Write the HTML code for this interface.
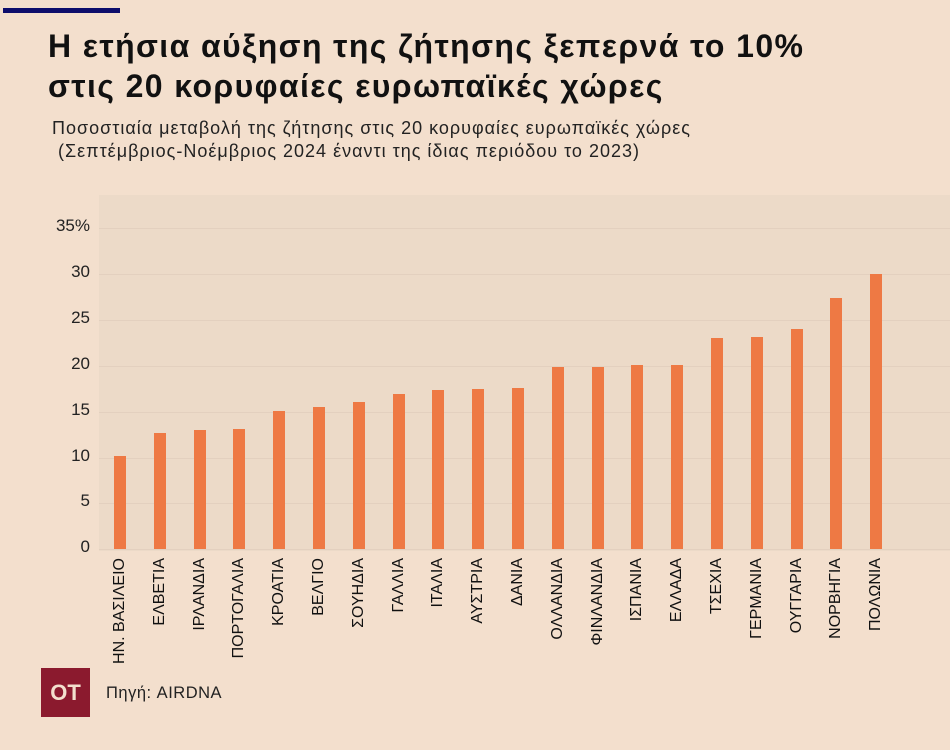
<!DOCTYPE html>
<html><head><meta charset="utf-8"><style>
body{margin:0;width:950px;height:750px;background:#f3dfcd;font-family:"Liberation Sans","DejaVu Sans",sans-serif;overflow:hidden;position:relative}
.bar{position:absolute;width:12px;background:#ee7944}
.t{position:absolute;color:#111}
.yl{position:absolute;right:860px;font-size:17px;color:#222;text-align:right}
.grid{position:absolute;left:99px;width:851px;height:1px;background:#e3d0bf}
.xl{position:absolute;font-size:16px;color:#111;transform-origin:0 0;transform:rotate(-90deg);white-space:nowrap;text-align:right;width:130px}
</style></head><body>
<div style="position:absolute;left:3px;top:8px;width:117px;height:5px;background:#0d0d6b"></div>
<div class="t" style="left:48px;top:26px;font-size:32px;font-weight:bold;line-height:40px;letter-spacing:1.4px">Η ετήσια αύξηση της ζήτησης ξεπερνά το 10%<br>στις 20 κορυφαίες ευρωπαϊκές χώρες</div>
<div class="t" style="left:52px;top:117px;font-size:18px;line-height:23px;color:#222;letter-spacing:1px">Ποσοστιαία μεταβολή της ζήτησης στις 20 κορυφαίες ευρωπαϊκές χώρες<br>&nbsp;(Σεπτέμβριος-Νοέμβριος 2024 έναντι της ίδιας περιόδου το 2023)</div>
<div style="position:absolute;left:99px;top:195px;width:851px;height:356px;background:#ecdac8"></div>
<div class="grid" style="top:228px"></div><div class="grid" style="top:274px"></div><div class="grid" style="top:320px"></div><div class="grid" style="top:366px"></div><div class="grid" style="top:412px"></div><div class="grid" style="top:458px"></div><div class="grid" style="top:503px"></div><div class="grid" style="top:549px"></div>
<div class="yl" style="top:216px">35%</div>
<div class="yl" style="top:262px">30</div><div class="yl" style="top:308px">25</div><div class="yl" style="top:354px">20</div><div class="yl" style="top:400px">15</div><div class="yl" style="top:446px">10</div><div class="yl" style="top:491px">5</div><div class="yl" style="top:537px">0</div>
<div id="bars"></div>
<div style="position:absolute;left:41px;top:668px;width:49px;height:49px;background:#8b1a2e;color:#f3dfcd;font-weight:bold;font-size:22px;line-height:49px;text-align:center">OT</div>
<div class="t" style="left:106px;top:684px;font-size:16.5px;color:#222;letter-spacing:0.5px">Πηγή: AIRDNA</div>
<script>
var v=[10.1,12.7,13.0,13.1,15.1,15.5,16.0,16.9,17.3,17.4,17.6,19.8,19.9,20.1,20.1,23.0,23.1,24.0,27.4,30.0];
var n=["ΗΝ. ΒΑΣΙΛΕΙΟ","ΕΛΒΕΤΙΑ","ΙΡΛΑΝΔΙΑ","ΠΟΡΤΟΓΑΛΙΑ","ΚΡΟΑΤΙΑ","ΒΕΛΓΙΟ","ΣΟΥΗΔΙΑ","ΓΑΛΛΙΑ","ΙΤΑΛΙΑ","ΑΥΣΤΡΙΑ","ΔΑΝΙΑ","ΟΛΛΑΝΔΙΑ","ΦΙΝΛΑΝΔΙΑ","ΙΣΠΑΝΙΑ","ΕΛΛΑΔΑ","ΤΣΕΧΙΑ","ΓΕΡΜΑΝΙΑ","ΟΥΓΓΑΡΙΑ","ΝΟΡΒΗΓΙΑ","ΠΟΛΩΝΙΑ"];
var h="";
for(var i=0;i<20;i++){var cx=120+i*39.8;var hh=v[i]*9.17;
h+='<div class="bar" style="left:'+(cx-6)+'px;top:'+(549-hh)+'px;height:'+hh+'px"></div>';
h+='<div class="xl" style="left:'+(cx-9)+'px;top:688px">'+n[i]+'</div>';}
document.getElementById("bars").innerHTML=h;
</script>
</body></html>
